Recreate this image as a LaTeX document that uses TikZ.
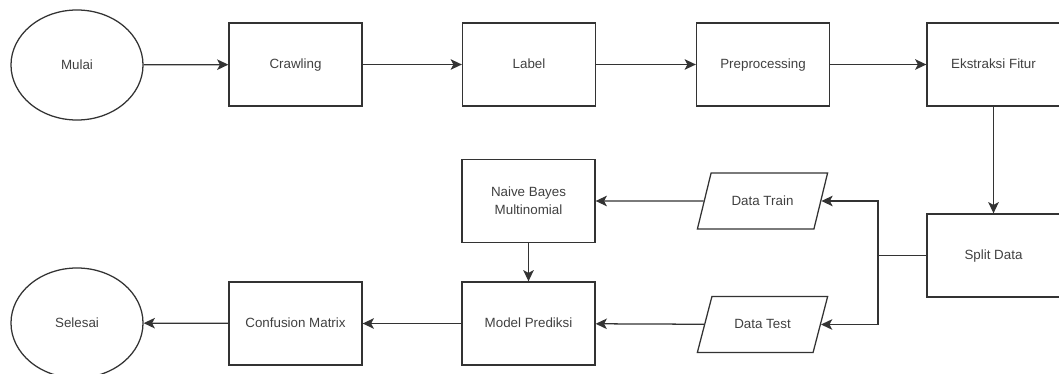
\documentclass[tikz,border=0pt]{standalone}
\usepackage{fontspec}
\setmainfont{Liberation Sans}
\usepackage{tikz}
\usetikzlibrary{arrows.meta, shapes.geometric}

\tikzset{
  line/.style={line width=0.9pt, draw=black!80},
  arrow/.style={line, -{Stealth[length=8pt, width=7.5pt, inset=2pt]}},
  flat/.style={text height=1.5ex, text depth=0.4ex},
  terminal/.style={ellipse, line, flat, inner sep=0pt, minimum width=3.3cm, minimum height=2.75cm},
  box/.style={rectangle, line, minimum width=3.325cm, minimum height=2.075cm, align=center},
  process/.style={box, flat},
  dataio/.style={trapezium, line, flat, trapezium left angle=68, trapezium right angle=112,
                 trapezium stretches=true, minimum width=3.275cm, minimum height=1.4cm}
}

\begin{document}
\begin{tikzpicture}[x=0.025cm, y=-0.025cm, font=\fontsize{9.5}{12.5}\selectfont, text=black!75]
                    \useasboundingbox (0,0) rectangle (1059,374);
                    % Top row
                    \node[terminal] (mulai) at (77,65) {Mulai};
                    \node[process] (crawling) at (295.5,64.5) {Crawling};
                    \node[process] (label) at (529,64.5) {Label};
                    \node[process] (prepro) at (763,64.5) {Preprocessing};
                    \node[process] (ekstraksi) at (993.5,64.5) {Ekstraksi Fitur};
                    % Split
                    \node[process] (split) at (993.5,255.5) {Split Data};
                    \coordinate (fork) at (878,255.5);
                    % Data
                    \node[dataio] (train) at (762.5,201) {Data Train};
                    \node[dataio] (test) at (762.5,324.5) {Data Test};
                    % Model
                    \node[box] (naive) at (528.5,201) {Naive Bayes\\Multinomial};
                    \node[process] (model) at (528.5,323.5) {Model Prediksi};
                    % Bottom row
                    \node[process] (confusion) at (295.5,323.5) {Confusion Matrix};
                    \node[terminal] (selesai) at (77,323) {Selesai};
                    % Arrows
                    \draw[arrow] (mulai) -- (crawling);
                    \draw[arrow] (crawling) -- (label);
                    \draw[arrow] (label) -- (prepro);
                    \draw[arrow] (prepro) -- (ekstraksi);
                    \draw[arrow] (ekstraksi) -- (split);
                    \draw[line] (split.west) -- (fork);
                    \draw[arrow] (fork) |- (train.east);
                    \draw[arrow] (fork) |- (test.east);
                    \draw[arrow] (train) -- (naive);
                    \draw[arrow] (test) -- (model);
                    \draw[arrow] (naive) -- (model);
                    \draw[arrow] (model) -- (confusion);
                    \draw[arrow] (confusion) -- (selesai);
                \end{tikzpicture}
\end{document}
